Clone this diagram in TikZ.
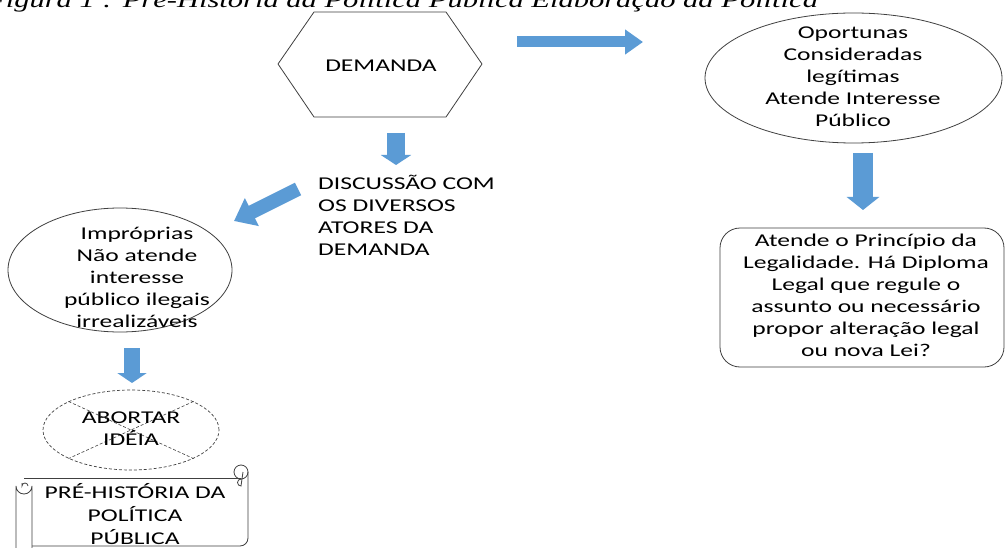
\documentclass[tikz,border=0pt]{standalone}
\usepackage{fontspec}
\setmainfont[FakeStretch=1.42]{Carlito}
\newfontfamily\capfont[FakeStretch=1.4]{Liberation Serif}
\usetikzlibrary{arrows.meta,shapes.geometric}
\definecolor{arrblue}{HTML}{5B9BD5}
\definecolor{edge}{HTML}{404040}
\tikzset{
  txt/.style={inner sep=0pt, align=center, font=\fontsize{18}{22}\selectfont},
  outline/.style={draw=edge, line width=0.8pt},
  blockarrow/.style={draw=arrblue, line width=#1},
}
\begin{document}
\begin{tikzpicture}[x=1pt,y=-1pt]
\useasboundingbox (0,0) rectangle (1006,548);
\clip (0,0) rectangle (1006,548);
\fill[white] (0,0) rectangle (1006,548);

% caption (cut at top)
\node[anchor=base west, inner sep=0pt, font=\capfont\itshape\fontsize{21.8}{22}\selectfont] (cap) at (-13,8) {Figura 1 : Pré-História da Política Pública Elaboração da Política};

% hexagon DEMANDA
\coordinate (hl) at (278,64);
\coordinate (htl) at (314,12);
\coordinate (htr) at (446,12);
\coordinate (hr) at (482,64);
\coordinate (hbr) at (446,117);
\coordinate (hbl) at (314,117);
\draw[outline] (hl) -- (htl) -- (htr) -- (hr) -- (hbr) -- (hbl) -- cycle;
\node[txt] (dem) at (381,66) {DEMANDA};

% right ellipse
\node[outline, ellipse, minimum width=297, minimum height=130, inner sep=0pt] (opE) at (853.5,78) {};
\node[txt] (opT) at (853,77) {Oportunas\\Consideradas\\legítimas\\Atende Interesse\\Público};

% rounded rectangle
\node[outline, rectangle, rounded corners=20pt, minimum width=284, minimum height=139, inner sep=0pt] (leg) at (862,297.5) {};
\node[txt] (legT) at (866,295) {Atende o Princípio da\\Legalidade. Há Diploma\\Legal que regule o\\assunto ou necessário\\propor alteração legal\\ou nova Lei?};

% discussion text
\node[txt, align=left, anchor=west] (disc) at (318,215) {DISCUSSÃO COM\\OS DIVERSOS\\ATORES DA\\DEMANDA};

% left ellipse
\node[outline, ellipse, minimum width=224, minimum height=124, inner sep=0pt] (impE) at (120,270) {};
\node[txt] (impT) at (137,277) {Impróprias\\Não atende\\interesse\\público ilegais\\irrealizáveis};

% dashed ellipse with cross
\node[draw=edge, line width=0.7pt, dash pattern=on 3pt off 2pt, ellipse, minimum width=176, minimum height=80, inner sep=0pt] (ab) at (131,430) {};
\draw[draw=edge, line width=0.6pt, dash pattern=on 3pt off 2pt] (ab.north west) -- (ab.south east);
\draw[draw=edge, line width=0.6pt, dash pattern=on 3pt off 2pt] (ab.north east) -- (ab.south west);
\node[txt] (abT) at (131,429) {ABORTAR\\IDÉIA};

% scroll
\draw[outline] (16,548) -- (16,486) arc[start angle=180, end angle=0, radius=8] -- (32,548);
\draw[outline] (28,486) arc[start angle=0, end angle=-180, radius=3] -- (22,483);
\draw[outline] (24,478) -- (241,478);
\draw[outline] (241,472) circle[radius=7];
\draw[outline] (241,479) arc[start angle=270, end angle=90, radius=3.5] -- (243,472);
\draw[outline] (248,472) -- (248,538) arc[start angle=0, end angle=90, radius=8] -- (32,546);
\node[txt, font=\fontsize{18}{23}\selectfont] (scT) at (135,514) {PRÉ-HISTÓRIA DA\\POLÍTICA\\PÚBLICA};

% block arrows
\coordinate (a1s) at (396,133); \coordinate (a1e) at (396,165);
\draw[blockarrow=18pt, -{Triangle[width=30pt,length=10pt]}] (a1s) -- (a1e);
\coordinate (a2s) at (517,42); \coordinate (a2e) at (643,42);
\draw[blockarrow=11pt, -{Triangle[width=24pt,length=18pt]}] (a2s) -- (a2e);
\coordinate (a3s) at (863,153); \coordinate (a3e) at (863,210);
\draw[blockarrow=20pt, -{Triangle[width=32pt,length=13pt]}] (a3s) -- (a3e);
\coordinate (a4s) at (298,189); \coordinate (a4e) at (234,221);
\draw[blockarrow=14pt, -{Triangle[width=30pt,length=20pt]}] (a4s) -- (a4e);
\coordinate (a5s) at (132,348); \coordinate (a5e) at (132,383);
\draw[blockarrow=16pt, -{Triangle[width=29pt,length=10pt]}] (a5s) -- (a5e);
\end{tikzpicture}
\end{document}
